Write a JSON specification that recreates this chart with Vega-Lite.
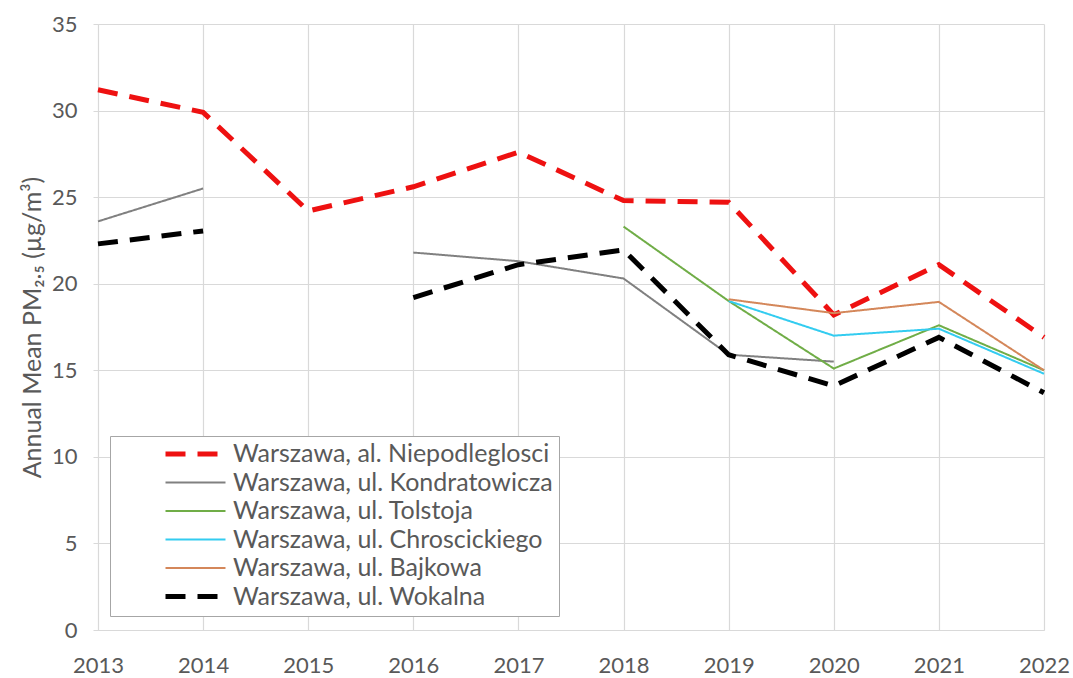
{
  "$schema": "https://vega.github.io/schema/vega-lite/v6.json",
  "width": 946,
  "height": 606,
  "autosize": {"type": "none"},
  "padding": {"left": 98, "top": 24, "right": 29, "bottom": 48},
  "background": "white",
  "config": {
    "font": "Lato",
    "view": {"stroke": null},
    "axis": {"gridColor": "#d9d9d9", "gridWidth": 1.2, "domainColor": "#d9d9d9", "tickColor": "#d9d9d9", "labelColor": "#595959", "labelFont": "Lato", "labelFontSize": 22, "titleColor": "#595959", "titleFont": "Lato", "titleFontWeight": "normal", "labelOverlap": false, "labelFlush": false}
  },
  "data": {
    "values": [
      {"year": 2013, "station": "Warszawa, al. Niepodleglosci", "pm": 31.2},
      {"year": 2014, "station": "Warszawa, al. Niepodleglosci", "pm": 29.9},
      {"year": 2015, "station": "Warszawa, al. Niepodleglosci", "pm": 24.2},
      {"year": 2016, "station": "Warszawa, al. Niepodleglosci", "pm": 25.6},
      {"year": 2017, "station": "Warszawa, al. Niepodleglosci", "pm": 27.6},
      {"year": 2018, "station": "Warszawa, al. Niepodleglosci", "pm": 24.8},
      {"year": 2019, "station": "Warszawa, al. Niepodleglosci", "pm": 24.7},
      {"year": 2020, "station": "Warszawa, al. Niepodleglosci", "pm": 18.2},
      {"year": 2021, "station": "Warszawa, al. Niepodleglosci", "pm": 21.1},
      {"year": 2022, "station": "Warszawa, al. Niepodleglosci", "pm": 16.9},
      {"year": 2013, "station": "Warszawa, ul. Kondratowicza", "pm": 23.6},
      {"year": 2014, "station": "Warszawa, ul. Kondratowicza", "pm": 25.5},
      {"year": 2015, "station": "Warszawa, ul. Kondratowicza", "pm": null},
      {"year": 2016, "station": "Warszawa, ul. Kondratowicza", "pm": 21.8},
      {"year": 2017, "station": "Warszawa, ul. Kondratowicza", "pm": 21.3},
      {"year": 2018, "station": "Warszawa, ul. Kondratowicza", "pm": 20.3},
      {"year": 2019, "station": "Warszawa, ul. Kondratowicza", "pm": 15.9},
      {"year": 2020, "station": "Warszawa, ul. Kondratowicza", "pm": 15.5},
      {"year": 2018, "station": "Warszawa, ul. Tolstoja", "pm": 23.3},
      {"year": 2019, "station": "Warszawa, ul. Tolstoja", "pm": 19.0},
      {"year": 2020, "station": "Warszawa, ul. Tolstoja", "pm": 15.1},
      {"year": 2021, "station": "Warszawa, ul. Tolstoja", "pm": 17.6},
      {"year": 2022, "station": "Warszawa, ul. Tolstoja", "pm": 15.0},
      {"year": 2019, "station": "Warszawa, ul. Chroscickiego", "pm": 19.0},
      {"year": 2020, "station": "Warszawa, ul. Chroscickiego", "pm": 17.0},
      {"year": 2021, "station": "Warszawa, ul. Chroscickiego", "pm": 17.4},
      {"year": 2022, "station": "Warszawa, ul. Chroscickiego", "pm": 14.8},
      {"year": 2019, "station": "Warszawa, ul. Bajkowa", "pm": 19.1},
      {"year": 2020, "station": "Warszawa, ul. Bajkowa", "pm": 18.3},
      {"year": 2021, "station": "Warszawa, ul. Bajkowa", "pm": 18.95},
      {"year": 2022, "station": "Warszawa, ul. Bajkowa", "pm": 15.0},
      {"year": 2013, "station": "Warszawa, ul. Wokalna", "pm": 22.3},
      {"year": 2014, "station": "Warszawa, ul. Wokalna", "pm": 23.05},
      {"year": 2015, "station": "Warszawa, ul. Wokalna", "pm": null},
      {"year": 2016, "station": "Warszawa, ul. Wokalna", "pm": 19.2},
      {"year": 2017, "station": "Warszawa, ul. Wokalna", "pm": 21.1},
      {"year": 2018, "station": "Warszawa, ul. Wokalna", "pm": 21.95},
      {"year": 2019, "station": "Warszawa, ul. Wokalna", "pm": 15.9},
      {"year": 2020, "station": "Warszawa, ul. Wokalna", "pm": 14.1},
      {"year": 2021, "station": "Warszawa, ul. Wokalna", "pm": 16.9},
      {"year": 2022, "station": "Warszawa, ul. Wokalna", "pm": 13.7}
    ]
  },
  "mark": {"type": "line", "invalid": "break-paths-show-domains", "strokeCap": "butt"},
  "encoding": {
    "x": {
      "field": "year", "type": "quantitative",
      "scale": {"domain": [2013, 2022], "nice": false, "zero": false},
      "axis": {"values": [2013, 2014, 2015, 2016, 2017, 2018, 2019, 2020, 2021, 2022], "format": "d", "title": null, "tickSize": 0, "labelPadding": 25}
    },
    "y": {
      "field": "pm", "type": "quantitative",
      "scale": {"domain": [0, 35], "nice": false},
      "axis": {"values": [0, 5, 10, 15, 20, 25, 30, 35], "title": "Annual Mean PM₂.₅ (µg/m³)", "titleFontSize": 25, "titlePadding": 6, "tickSize": 5, "labelPadding": 16}
    },
    "color": {
      "field": "station", "type": "nominal",
      "scale": {
        "domain": ["Warszawa, al. Niepodleglosci", "Warszawa, ul. Kondratowicza", "Warszawa, ul. Tolstoja", "Warszawa, ul. Chroscickiego", "Warszawa, ul. Bajkowa", "Warszawa, ul. Wokalna"],
        "range": ["#ee1111", "#808080", "#70ad47", "#33ccf0", "#d4875a", "#000000"]
      },
      "legend": {
        "title": null,
        "orient": "none",
        "legendX": 12,
        "legendY": 412,
        "fillColor": "white",
        "strokeColor": "#a6a6a6",
        "padding": 6,
        "symbolType": "stroke",
        "symbolSize": 3600,
        "symbolOffset": 67,
        "clipHeight": 24,
        "rowPadding": 3.5,
        "labelFontSize": 25,
        "labelColor": "#595959",
        "labelFont": "Lato",
        "labelLimit": 500,
        "labelOffset": 25,
        "offset": 0,
        "encode": {
          "symbols": {
            "update": {
              "strokeWidth": {"signal": "datum.value === 'Warszawa, al. Niepodleglosci' || datum.value === 'Warszawa, ul. Wokalna' ? 5 : 2"}
            }
          }
        }
      }
    },
    "strokeDash": {
      "field": "station", "type": "nominal",
      "scale": {
        "domain": ["Warszawa, al. Niepodleglosci", "Warszawa, ul. Kondratowicza", "Warszawa, ul. Tolstoja", "Warszawa, ul. Chroscickiego", "Warszawa, ul. Bajkowa", "Warszawa, ul. Wokalna"],
        "range": [[20, 12], [1, 0], [1, 0], [1, 0], [1, 0], [20, 12]]
      }
    },
    "strokeWidth": {
      "condition": {"test": "datum.station === 'Warszawa, al. Niepodleglosci' || datum.station === 'Warszawa, ul. Wokalna'", "value": 5},
      "value": 2
    }
  }
}
